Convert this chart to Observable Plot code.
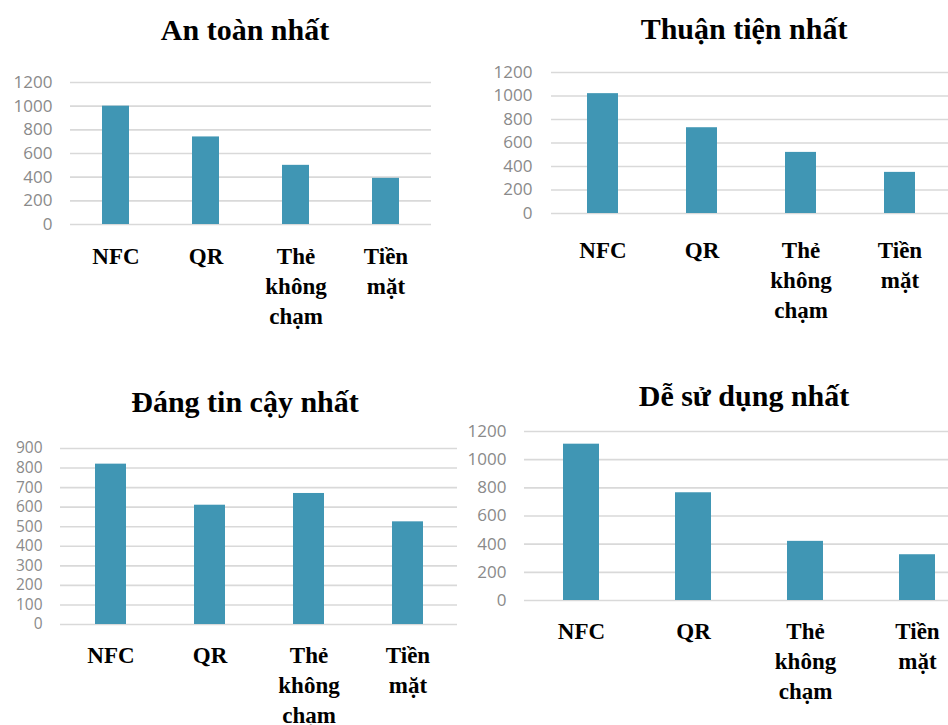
<!DOCTYPE html>
<html>
<head>
<meta charset="utf-8">
<script src="https://cdn.jsdelivr.net/npm/d3@7"></script>
<script src="https://cdn.jsdelivr.net/npm/@observablehq/plot@0.6"></script>
<style>
  html, body { margin: 0; padding: 0; background: #fff; overflow: hidden; }
  #root { position: relative; width: 948px; height: 725px; overflow: hidden; }
  .panel { position: absolute; overflow: hidden; }
  .panel svg { max-width: none !important; }
  .title {
    position: absolute; transform: translate(-50%, -50%); white-space: nowrap;
    font-family: "Liberation Serif", "Times New Roman", serif; font-weight: bold;
    font-size: 30px; line-height: 1; color: #000;
  }
</style>
</head>
<body>
<div id="root"></div>
<script>
// ---- data ----
const categories = ["NFC", "QR", "Thẻ\nkhông\nchạm", "Tiền\nmặt"];
const titles = ["An toàn nhất", "Thuận tiện nhất", "Đáng tin cậy nhất", "Dễ sử dụng nhất"];
const anToan = [1000, 740, 500, 390];
const thuanTien = [1020, 730, 520, 350];
const dangTinCay = [820, 610, 670, 525];
const deSuDung = [1110, 765, 420, 325];
const ticks1200 = [0, 200, 400, 600, 800, 1000, 1200];
const ticks900 = [0, 100, 200, 300, 400, 500, 600, 700, 800, 900];

// ---- layout ----
const panels = [
  {title: titles[0], values: anToan, ticks: ticks1200, left: 0, top: 0, width: 474, height: 340,
   ml: 70, mr: 43, mt: 82, mb: 116, yPad: 18, xPad: 18, pi: 0.7, tx: 245, ty: 30, tf: 17},
  {title: titles[1], values: thuanTien, ticks: ticks1200, left: 474, top: 0, width: 476, height: 340,
   ml: 77, mr: 0, mt: 72, mb: 127, yPad: 19, xPad: 23, pi: 0.69, tx: 744, ty: 29, tf: 17},
  {title: titles[2], values: dangTinCay, ticks: ticks900, left: 0, top: 370, width: 474, height: 355,
   ml: 60, mr: 17, mt: 78, mb: 101, yPad: 18, xPad: 17, pi: 0.69, tx: 245, ty: 402, tf: 15.5},
  {title: titles[3], values: deSuDung, ticks: ticks1200, left: 444, top: 370, width: 530, height: 355,
   ml: 80, mr: 0, mt: 61, mb: 125, yPad: 18, xPad: 17, pi: 0.68, tx: 744, ty: 396, tf: 17}
];

const root = document.getElementById("root");
const barColor = "#4096b4";

for (const p of panels) {
  const data = categories.map((c, i) => ({cat: c, v: p.values[i]}));
  const ymax = p.ticks[p.ticks.length - 1];
  const chart = Plot.plot({
    width: p.width,
    height: p.height,
    marginLeft: p.ml,
    marginRight: p.mr,
    marginTop: p.mt,
    marginBottom: p.mb,
    style: {background: "transparent", overflow: "visible", maxWidth: "none"},
    x: {domain: categories, paddingInner: p.pi, paddingOuter: p.pi / 2},
    y: {domain: [0, ymax], nice: false},
    marks: [
      Plot.gridY(p.ticks, {stroke: "#d9d9d9", strokeOpacity: 1, strokeWidth: 1.6}),
      Plot.barY(data, {x: "cat", y: "v", fill: barColor}),
      Plot.axisY(p.ticks, {
        tickSize: 0, tickPadding: p.yPad, label: null, tickFormat: d => String(d),
        fontFamily: "Open Sans", fontSize: p.tf, color: "#8a8a8a"
      }),
      Plot.axisX({
        tickSize: 0, tickPadding: p.xPad, label: null,
        fontFamily: "Liberation Serif", fontWeight: "bold", fontSize: 23,
        lineHeight: 1.3, color: "#000"
      })
    ]
  });
  const div = document.createElement("div");
  div.className = "panel";
  div.style.left = p.left + "px";
  div.style.top = p.top + "px";
  div.style.width = Math.min(p.width, 948 - p.left) + "px";
  div.style.height = p.height + "px";
  div.appendChild(chart);
  root.appendChild(div);

  const t = document.createElement("div");
  t.className = "title";
  t.textContent = p.title;
  t.style.left = p.tx + "px";
  t.style.top = p.ty + "px";
  root.appendChild(t);
}
</script>
</body>
</html>
